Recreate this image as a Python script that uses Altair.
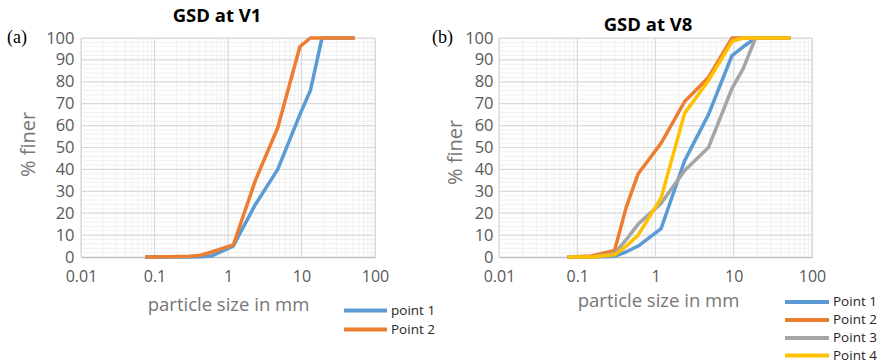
import altair as alt
import pandas as pd

# ---------------- data ----------------
sizes_mm = [0.075, 0.15, 0.3, 0.425, 0.6, 1.18, 2.36, 4.75, 9.5, 13.2, 19, 53]

v1_point1 = [0, 0, 0, 0.1, 0.5, 5, 24, 40, 65, 76, 100, 100]
v1_point2 = [0, 0.1, 0.3, 0.8, 2.3, 5.5, 35, 59, 96, 100, 100, 100]

v8_point1 = [0, 0, 0.3, 2.4, 5, 13, 44, 65, 92, 96, 100, 100]
v8_point2 = [0, 0.5, 3, 23, 38, 52, 71, 82, 100, 100, 100, 100]
v8_point3 = [0, 0, 1.5, 8, 15, 24.5, 39.5, 50, 77, 86, 100, 100]
v8_point4 = [0, 0, 1, 5, 10, 27, 65.7, 80.5, 98.5, 100, 100, 100]

v1_names = ["point 1", "Point 2"]
v8_names = ["Point 1", "Point 2", "Point 3", "Point 4"]

x_ticks = [0.01, 0.1, 1, 10, 100]
y_ticks = list(range(0, 101, 10))
x_minor = [m * 10 ** e for e in range(-2, 2) for m in range(2, 10)]
y_minor = [v for v in range(2, 100, 2) if v % 10]

series_colors = ["#5B9BD5", "#ED7D31", "#A5A5A5", "#FFC000"]

FONT = "Open Sans"
LABEL_COLOR = "#595959"
TITLE_COLOR = "#767676"


def panel(series, names, title, tag, width, height, title_x, title_y,
          tag_x, tag_y, xt_x, xt_y, yt_x, yt_y, lab_pad_y,
          leg_x1, leg_x2, leg_tx, leg_rows, anchor_pt):
    xscale = alt.Scale(type="log", domain=[0.01, 100])
    yscale = alt.Scale(domain=[0, 100], nice=False)

    x_axis = alt.Axis(values=x_ticks, format="~g", grid=False, ticks=False, tickSize=0,
                      domain=True, domainColor="#BFBFBF", domainWidth=1.5,
                      labelFont=FONT, labelFontSize=16, labelColor=LABEL_COLOR,
                      labelPadding=24, labelBaseline="alphabetic", labelFlush=False,
                      labelOverlap=False,
                      title="particle size in mm", titleFont=FONT, titleFontSize=18.5,
                      titleFontWeight="normal", titleColor=TITLE_COLOR,
                      titleX=xt_x, titleY=xt_y, titleBaseline="alphabetic",
                      titleAlign="center")
    y_axis = alt.Axis(values=y_ticks, grid=False, ticks=False, tickSize=0, domain=False,
                      labelFont=FONT, labelFontSize=16.5, labelColor=LABEL_COLOR,
                      labelPadding=lab_pad_y,
                      title="% finer", titleFont=FONT, titleFontSize=20,
                      titleFontWeight="normal", titleColor=TITLE_COLOR,
                      titleX=yt_x, titleY=yt_y, titleAngle=270,
                      titleAlign="center", titleBaseline="middle")

    def X(field):
        return alt.X(field, scale=xscale, axis=x_axis)

    def Y(field):
        return alt.Y(field, scale=yscale, axis=y_axis)

    minor_v = alt.Chart(pd.DataFrame({"g": x_minor})).mark_rule(
        color="#F0F0F0", strokeWidth=1).encode(x=X("g:Q"))
    minor_h = alt.Chart(pd.DataFrame({"g": y_minor})).mark_rule(
        color="#F0F0F0", strokeWidth=1).encode(y=Y("g:Q"))
    major_v = alt.Chart(pd.DataFrame({"g": x_ticks})).mark_rule(
        color="#D9D9D9", strokeWidth=1.2).encode(x=X("g:Q"))
    major_h = alt.Chart(pd.DataFrame({"g": y_ticks[1:]})).mark_rule(
        color="#D9D9D9", strokeWidth=1.2).encode(y=Y("g:Q"))

    layers = [minor_v, minor_h, major_v, major_h]

    for i, (vals, name) in enumerate(zip(series, names)):
        df = pd.DataFrame({"size": sizes_mm, "finer": vals, "series": name})
        layers.append(
            alt.Chart(df).mark_line(color=series_colors[i], strokeWidth=3.5,
                                    strokeJoin="round").encode(x=X("size:Q"), y=Y("finer:Q"))
        )

    # manual legend
    for i, name in enumerate(names):
        ldf = pd.DataFrame({"t": [name]})
        layers.append(
            alt.Chart(ldf).mark_rule(color=series_colors[i], strokeWidth=4).encode(
                x=alt.value(leg_x1), x2=alt.value(leg_x2), y=alt.value(leg_rows[i]))
        )
        layers.append(
            alt.Chart(ldf).mark_text(font=FONT, fontSize=13.5, color="#262626",
                                     align="left", baseline="middle").encode(
                x=alt.value(leg_tx), y=alt.value(leg_rows[i]), text="t:N")
        )

    tag_df = pd.DataFrame({"t": [tag]})
    layers.append(
        alt.Chart(tag_df).mark_text(font="Liberation Serif", fontSize=18, color="#000000",
                                    align="left", baseline="alphabetic").encode(
            x=alt.value(tag_x), y=alt.value(tag_y), text="t:N")
    )

    title_df = pd.DataFrame({"t": [title]})
    layers.append(
        alt.Chart(title_df).mark_text(font=FONT, fontSize=18.5, fontWeight="bold",
                                      color="#000000", align="center",
                                      baseline="alphabetic").encode(
            x=alt.value(title_x), y=alt.value(title_y), text="t:N")
    )

    # invisible anchor that fixes the outer bounds of the page
    ax, ay = anchor_pt
    layers.append(
        alt.Chart(tag_df).mark_rule(strokeWidth=1, strokeOpacity=0).encode(
            x=alt.value(ax), x2=alt.value(ax + 0.5), y=alt.value(ay))
    )

    return alt.layer(*layers).properties(width=width, height=height)


left = panel([v1_point1, v1_point2], v1_names, "GSD at V1", "(a)",
             width=294, height=219, title_x=136, title_y=-16,
             tag_x=-74, tag_y=5, xt_x=147, xt_y=53, yt_x=-53, yt_y=106,
             lab_pad_y=7,
             leg_x1=263, leg_x2=306, leg_tx=310, leg_rows=[272.5, 291.5],
             anchor_pt=(-80.5, -37))

right = panel([v8_point1, v8_point2, v8_point3, v8_point4], v8_names, "GSD at V8", "(b)",
              width=313, height=219, title_x=149, title_y=-7.5,
              tag_x=-67, tag_y=5, xt_x=159, xt_y=49.5, yt_x=-44, yt_y=114,
              lab_pad_y=6,
              leg_x1=286, leg_x2=330, leg_tx=334, leg_rows=[264, 282, 300, 317.5],
              anchor_pt=(382, 325))

chart = alt.hconcat(left, right, spacing=124, bounds="flush").properties(
    padding=0,
).configure_view(stroke=None).configure(background="white")

chart.save("out.html", embed_options={"renderer": "svg", "actions": False})
